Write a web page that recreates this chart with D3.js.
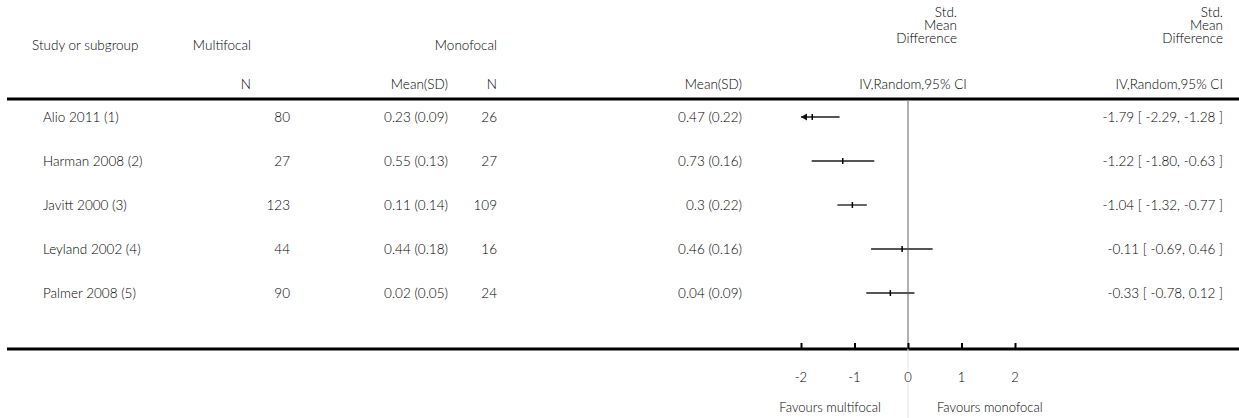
<!DOCTYPE html>
<html>
<head>
<meta charset="utf-8">
<script src="https://cdn.jsdelivr.net/npm/d3@7"></script>
<style>
  html, body { margin: 0; padding: 0; background: #fff; }
  svg { display: block; }
  text { font-family: Lato, "Open Sans", sans-serif; font-weight: 300; fill: #000; }
</style>
</head>
<body>
<svg id="chart" width="1239" height="418"></svg>
<script>
// Studies and per-arm summary statistics
const studies = ["Alio 2011 (1)", "Harman 2008 (2)", "Javitt 2000 (3)", "Leyland 2002 (4)", "Palmer 2008 (5)"];
const multiN = [80, 27, 123, 44, 90];
const multiMean = [0.23, 0.55, 0.11, 0.44, 0.02];
const multiSD = [0.09, 0.13, 0.14, 0.18, 0.05];
const monoN = [26, 27, 109, 16, 24];
const monoMean = [0.47, 0.73, 0.3, 0.46, 0.04];
const monoSD = [0.22, 0.16, 0.22, 0.16, 0.09];

// Standardised mean differences with 95% CI (IV, random effects)
const smd = [-1.79, -1.22, -1.04, -0.11, -0.33];
const ciLow = [-2.29, -1.80, -1.32, -0.69, -0.78];
const ciHigh = [-1.28, -0.63, -0.77, 0.46, 0.12];

const axisTicks = [-2, -1, 0, 1, 2];
const favoursLeft = "Favours multifocal";
const favoursRight = "Favours monofocal";

const svg = d3.select("#chart");
const W = 1239;
const fs = 13.5;

const x = d3.scaleLinear().domain([-2, 2]).range([801, 1015]);
const y = d3.scalePoint().domain(d3.range(studies.length)).range([117, 293]);

const topRule = 99, bottomRule = 349;
const col = {
  study: 43, multiHead: 251, multiN: 290, multiMean: 448,
  monoN: 497, monoMean: 742, plotRight: 957, est: 1223
};

function label(xp, yp, str, anchor, size) {
  return svg.append("text")
    .attr("x", xp).attr("y", yp)
    .attr("dy", "0.35em")
    .attr("text-anchor", anchor || "start")
    .style("font-size", (size || fs) + "px")
    .text(str);
}

// Column headers
label(32, 45, "Study or subgroup");
label(col.multiHead, 45, "Multifocal", "end");
label(col.multiHead, 84, "N", "end");
label(col.multiMean, 84, "Mean(SD)", "end");
label(col.monoN, 45, "Monofocal", "end");
label(col.monoN, 84, "N", "end");
label(col.monoMean, 84, "Mean(SD)", "end");

["Std.", "Mean", "Difference"].forEach((s, i) => {
  label(col.plotRight, 12 + i * 13, s, "end", 13.5);
  label(col.est, 12 + i * 13, s, "end", 13.5);
});
label(x(0) + 5, 84, "IV,Random,95% CI", "middle");
label(col.est, 84, "IV,Random,95% CI", "end");

// Horizontal rules
svg.append("line").attr("x1", 7).attr("x2", W).attr("y1", topRule).attr("y2", topRule)
  .attr("stroke", "#000").attr("stroke-width", 3);
svg.append("line").attr("x1", 7).attr("x2", W).attr("y1", bottomRule).attr("y2", bottomRule)
  .attr("stroke", "#000").attr("stroke-width", 3);

// Line of no effect
svg.append("line").attr("x1", x(0)).attr("x2", x(0)).attr("y1", topRule + 1).attr("y2", bottomRule)
  .attr("stroke", "#888").attr("stroke-width", 1.3);
svg.append("line").attr("x1", x(0)).attr("x2", x(0)).attr("y1", bottomRule).attr("y2", 418)
  .attr("stroke", "#e6e6e6").attr("stroke-width", 1);

// Table rows
const f2 = v => v.toFixed(2);
studies.forEach((s, i) => {
  const yy = y(i);
  label(col.study, yy, s);
  label(col.multiN, yy, String(multiN[i]), "end");
  label(col.multiMean, yy, `${multiMean[i]} (${multiSD[i]})`, "end");
  label(col.monoN, yy, String(monoN[i]), "end");
  label(col.monoMean, yy, `${monoMean[i]} (${monoSD[i]})`, "end");
  label(col.est, yy, `${f2(smd[i])} [ ${f2(ciLow[i])}, ${f2(ciHigh[i])} ]`, "end");
});

// Confidence intervals, clipped to the axis range with arrows where they run off
const [dMin, dMax] = x.domain();
const g = svg.append("g");
studies.forEach((s, i) => {
  const yy = y(i);
  const lo = Math.max(ciLow[i], dMin), hi = Math.min(ciHigh[i], dMax);
  g.append("line").attr("x1", x(lo)).attr("x2", x(hi)).attr("y1", yy).attr("y2", yy)
    .attr("stroke", "#555").attr("stroke-width", 1.8);
  if (ciLow[i] < dMin) {
    const ax = x(dMin);
    g.append("path").attr("d", `M${ax},${yy} l6,-3.5 l0,7 z`).attr("fill", "#111");
  }
  if (ciHigh[i] > dMax) {
    const ax = x(dMax);
    g.append("path").attr("d", `M${ax},${yy} l-6,-3.5 l0,7 z`).attr("fill", "#111");
  }
  g.append("line").attr("x1", x(smd[i])).attr("x2", x(smd[i])).attr("y1", yy - 3).attr("y2", yy + 3)
    .attr("stroke", "#000").attr("stroke-width", 1.5);
});

// Axis along the bottom rule
const axis = d3.axisTop(x).tickValues(axisTicks).tickSize(6).tickFormat(d3.format("d"));
const axG = svg.append("g").attr("transform", `translate(0,${bottomRule})`).call(axis);
axG.select(".domain").remove();
axG.selectAll(".tick line").attr("stroke", "#000").attr("stroke-width", 2);
axG.selectAll(".tick text").remove();
axisTicks.forEach(t => label(x(t), 377, String(t), "middle", 13));

label(x(0) - 27, 407, favoursLeft, "end", 13);
label(x(0) + 29, 407, favoursRight, "start", 13);
</script>
</body>
</html>
